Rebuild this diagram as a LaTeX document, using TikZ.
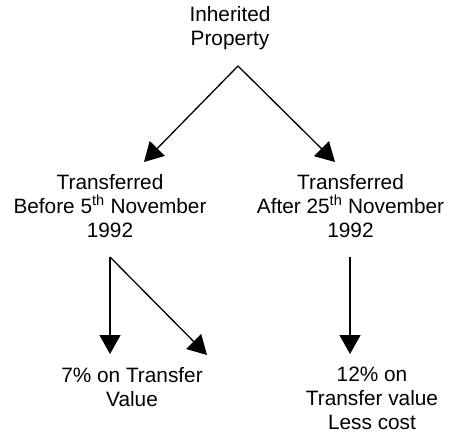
\documentclass[tikz,border=0pt]{standalone}
\usepackage{fontspec}
\setmainfont{Liberation Sans}
\usetikzlibrary{arrows.meta}
\begin{document}
\begin{tikzpicture}[x=1pt,y=-1pt,
  lbl/.style={inner sep=0pt, anchor=north, align=center,
    font=\fontsize{20.8}{24}\selectfont, execute at begin node=\strut},
  conn/.style={line width=1.3pt, -{Triangle[length=19pt,width=21pt]}}]
\useasboundingbox (0,0) rectangle (449,438);
% labels
\node[lbl] (inh) at (230,6.7) {Inherited\\Property};
\node[lbl] (before) at (110,174.2) {Transferred\\Before 5\textsuperscript{th} November\\1992};
\node[lbl] (after) at (350.5,174.2) {Transferred\\After 25\textsuperscript{th} November\\1992};
\node[lbl] (seven) at (132,367.2) {7\% on Transfer\\Value};
\node[lbl] (twelve) at (372,367.2) {12\% on\\Transfer value\\Less cost};
% connector end points
\coordinate (inhOut) at (238,66);
\coordinate (beforeIn) at (144,162);
\coordinate (afterIn) at (335,162);
\coordinate (beforeOut) at (110,257);
\coordinate (sevenInA) at (110,354);
\coordinate (sevenInB) at (207,355);
\coordinate (afterOut) at (350,257);
\coordinate (twelveIn) at (350,354);
% connectors
\draw[conn] (inhOut) -- (beforeIn);
\draw[conn] (inhOut) -- (afterIn);
\draw[conn] (beforeOut) -- (sevenInA);
\draw[conn] (beforeOut) -- (sevenInB);
\draw[conn] (afterOut) -- (twelveIn);
\end{tikzpicture}
\end{document}
